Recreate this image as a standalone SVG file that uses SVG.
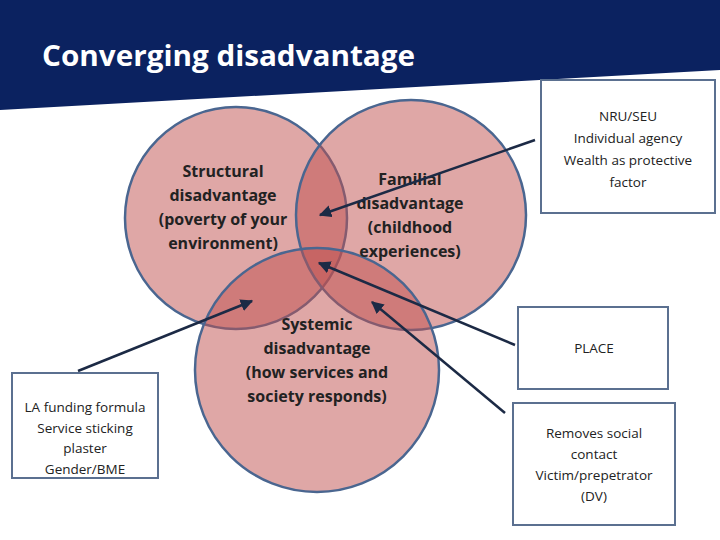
<svg xmlns="http://www.w3.org/2000/svg" width="720" height="540" viewBox="0 0 720 540">
<defs>
<style>
.c{fill:#c0504d;fill-opacity:0.5;stroke:#4a6690;stroke-width:2.5}
.b{fill:#fff;stroke:#5b7090;stroke-width:2}
.t{font-family:"Open Sans",sans-serif;font-weight:bold;font-size:16px;fill:#222;text-anchor:middle}
.s{font-family:"Open Sans",sans-serif;font-size:13.5px;fill:#222;text-anchor:middle}
.a{stroke:#1c2a45;stroke-width:2.5;fill:none;marker-end:url(#m)}
</style>
<marker id="m" viewBox="0 0 10 10" refX="9" refY="5" markerWidth="5" markerHeight="5" orient="auto"><path d="M0,0L10,5L0,10z" fill="#1c2a45"/></marker>
</defs>
<rect width="720" height="540" fill="#fff"/>
<polygon points="0,0 720,0 720,70 0,110" fill="#0b2260"/>
<text x="42" y="66" font-family="'Open Sans',sans-serif" font-weight="bold" font-size="28" fill="#fff" textLength="373" lengthAdjust="spacingAndGlyphs">Converging disadvantage</text>
<g id="structural"><circle class="c" cx="236" cy="218" r="111"/></g>
<g id="familial"><circle class="c" cx="411" cy="215" r="115"/></g>
<g id="systemic"><circle class="c" cx="317" cy="370" r="122"/></g>
<g id="structural-label"><text class="t" y="177"><tspan x="223">Structural</tspan><tspan x="223" dy="24">disadvantage</tspan><tspan x="223" dy="24">(poverty of your</tspan><tspan x="223" dy="24">environment)</tspan></text></g>
<g id="familial-label"><text class="t" y="185"><tspan x="410">Familial</tspan><tspan x="410" dy="24">disadvantage</tspan><tspan x="410" dy="24">(childhood</tspan><tspan x="410" dy="24">experiences)</tspan></text></g>
<g id="systemic-label"><text class="t" y="330"><tspan x="317">Systemic</tspan><tspan x="317" dy="24">disadvantage</tspan><tspan x="317" dy="24">(how services and</tspan><tspan x="317" dy="24">society responds)</tspan></text></g>
<g id="nru"><rect class="b" x="541" y="80" width="174" height="133"/><text class="s" y="121"><tspan x="628">NRU/SEU</tspan><tspan x="628" dy="22">Individual agency</tspan><tspan x="628" dy="22">Wealth as protective</tspan><tspan x="628" dy="22">factor</tspan></text></g>
<g id="place"><rect class="b" x="518" y="307" width="150" height="82"/><text class="s" x="594" y="353">PLACE</text></g>
<g id="removes"><rect class="b" x="513" y="403" width="162" height="122"/><text class="s" y="438"><tspan x="594">Removes social</tspan><tspan x="594" dy="21">contact</tspan><tspan x="594" dy="21">Victim/prepetrator</tspan><tspan x="594" dy="21">(DV)</tspan></text></g>
<g id="la"><rect class="b" x="12" y="373" width="146" height="105"/><text class="s" y="412"><tspan x="85">LA funding formula</tspan><tspan x="85" dy="20.5">Service sticking</tspan><tspan x="85" dy="20.5">plaster</tspan><tspan x="85" dy="20.5">Gender/BME</tspan></text></g>
<g id="connectors">
<line class="a" x1="535" y1="140" x2="320" y2="215"/>
<line class="a" x1="505" y1="413" x2="372" y2="302"/>
<line class="a" x1="515" y1="345" x2="319" y2="263"/>
<line class="a" x1="78" y1="371" x2="252" y2="301"/>
</g>
</svg>
